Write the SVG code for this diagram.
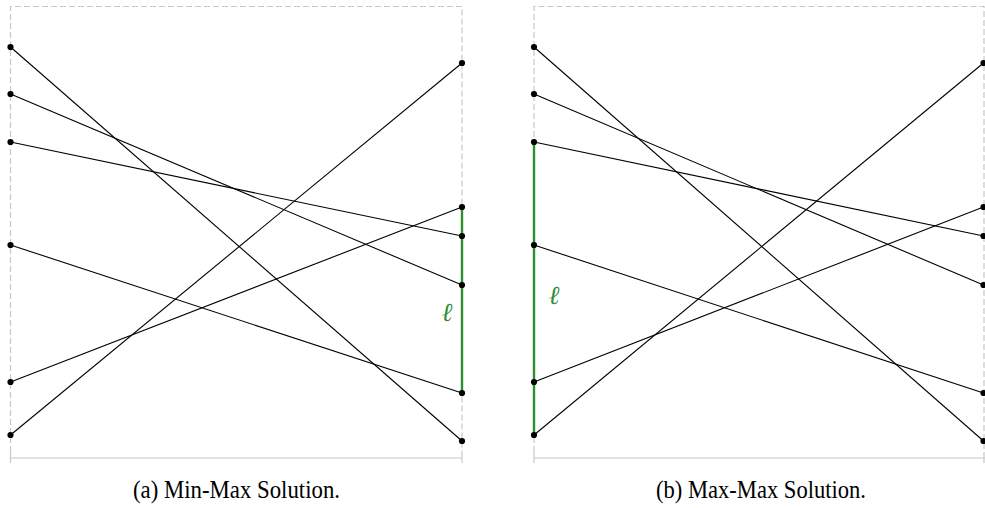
<svg xmlns="http://www.w3.org/2000/svg" width="985" height="508" viewBox="0 0 985 508">
<style>
.frame{stroke:#c8c8c8;stroke-width:1.2;fill:none;stroke-dasharray:6 3}
.base{stroke:#c8c8c8;stroke-width:1.2;fill:none}
.seg{stroke:#000;stroke-width:1.1;fill:none}
.hl{stroke:#2f8f2f;stroke-width:2.4;fill:none}
.pt{fill:#000}
.lbl{font-family:"Liberation Serif","DejaVu Serif",serif;font-style:italic;font-size:26px;fill:#2f8f2f}
.cap{font-family:"Liberation Serif","Times New Roman",serif;font-size:25px;fill:#000}
</style>
<g id="panel-a-frame">
<path class="frame" d="M10.5 452 V6.5 H462 V452"/>
<path class="base" d="M10.5 452 V463 M10.5 458 H462 M462 452 V463"/>
</g>
<g id="panel-b-frame">
<path class="frame" d="M534 452 V6.5 H984 V452"/>
<path class="base" d="M534 452 V463 M534 458 H985 M984 452 V463"/>
</g>
<g id="connectors">
<line class="seg" x1="10.5" y1="47" x2="462" y2="441"/>
<line class="seg" x1="10.5" y1="94" x2="462" y2="285"/>
<line class="seg" x1="10.5" y1="142" x2="462" y2="236"/>
<line class="seg" x1="10.5" y1="245" x2="462" y2="393"/>
<line class="seg" x1="10.5" y1="382" x2="462" y2="207"/>
<line class="seg" x1="10.5" y1="435" x2="462" y2="63"/>
<line class="hl" x1="462" y1="207" x2="462" y2="393"/>
<line class="seg" x1="534" y1="47" x2="983.5" y2="441"/>
<line class="seg" x1="534" y1="94" x2="983.5" y2="285"/>
<line class="seg" x1="534" y1="142" x2="983.5" y2="236"/>
<line class="seg" x1="534" y1="245" x2="983.5" y2="393"/>
<line class="seg" x1="534" y1="382" x2="983.5" y2="207"/>
<line class="seg" x1="534" y1="435" x2="983.5" y2="63"/>
<line class="hl" x1="534" y1="142" x2="534" y2="435"/>
</g>
<g id="points-a">
<circle class="pt" cx="10.5" cy="47" r="3.1"/>
<circle class="pt" cx="10.5" cy="94" r="3.1"/>
<circle class="pt" cx="10.5" cy="142" r="3.1"/>
<circle class="pt" cx="10.5" cy="245" r="3.1"/>
<circle class="pt" cx="10.5" cy="382" r="3.1"/>
<circle class="pt" cx="10.5" cy="435" r="3.1"/>
<circle class="pt" cx="462" cy="63" r="3.1"/>
<circle class="pt" cx="462" cy="207" r="3.1"/>
<circle class="pt" cx="462" cy="236" r="3.1"/>
<circle class="pt" cx="462" cy="285" r="3.1"/>
<circle class="pt" cx="462" cy="393" r="3.1"/>
<circle class="pt" cx="462" cy="441" r="3.1"/>
</g>
<g id="points-b">
<circle class="pt" cx="534" cy="47" r="3.1"/>
<circle class="pt" cx="534" cy="94" r="3.1"/>
<circle class="pt" cx="534" cy="142" r="3.1"/>
<circle class="pt" cx="534" cy="245" r="3.1"/>
<circle class="pt" cx="534" cy="382" r="3.1"/>
<circle class="pt" cx="534" cy="435" r="3.1"/>
<circle class="pt" cx="983.5" cy="63" r="3.1"/>
<circle class="pt" cx="983.5" cy="207" r="3.1"/>
<circle class="pt" cx="983.5" cy="236" r="3.1"/>
<circle class="pt" cx="983.5" cy="285" r="3.1"/>
<circle class="pt" cx="983.5" cy="393" r="3.1"/>
<circle class="pt" cx="983.5" cy="441" r="3.1"/>
</g>
<g id="label-a"><text class="lbl" x="447" y="321" text-anchor="middle">ℓ</text></g>
<g id="label-b"><text class="lbl" x="554" y="304" text-anchor="middle">ℓ</text></g>
<g id="caption-a"><text class="cap" x="236.5" y="498" text-anchor="middle" textLength="207" lengthAdjust="spacingAndGlyphs">(a) Min-Max Solution.</text></g>
<g id="caption-b"><text class="cap" x="761" y="498" text-anchor="middle" textLength="210" lengthAdjust="spacingAndGlyphs">(b) Max-Max Solution.</text></g>
</svg>
